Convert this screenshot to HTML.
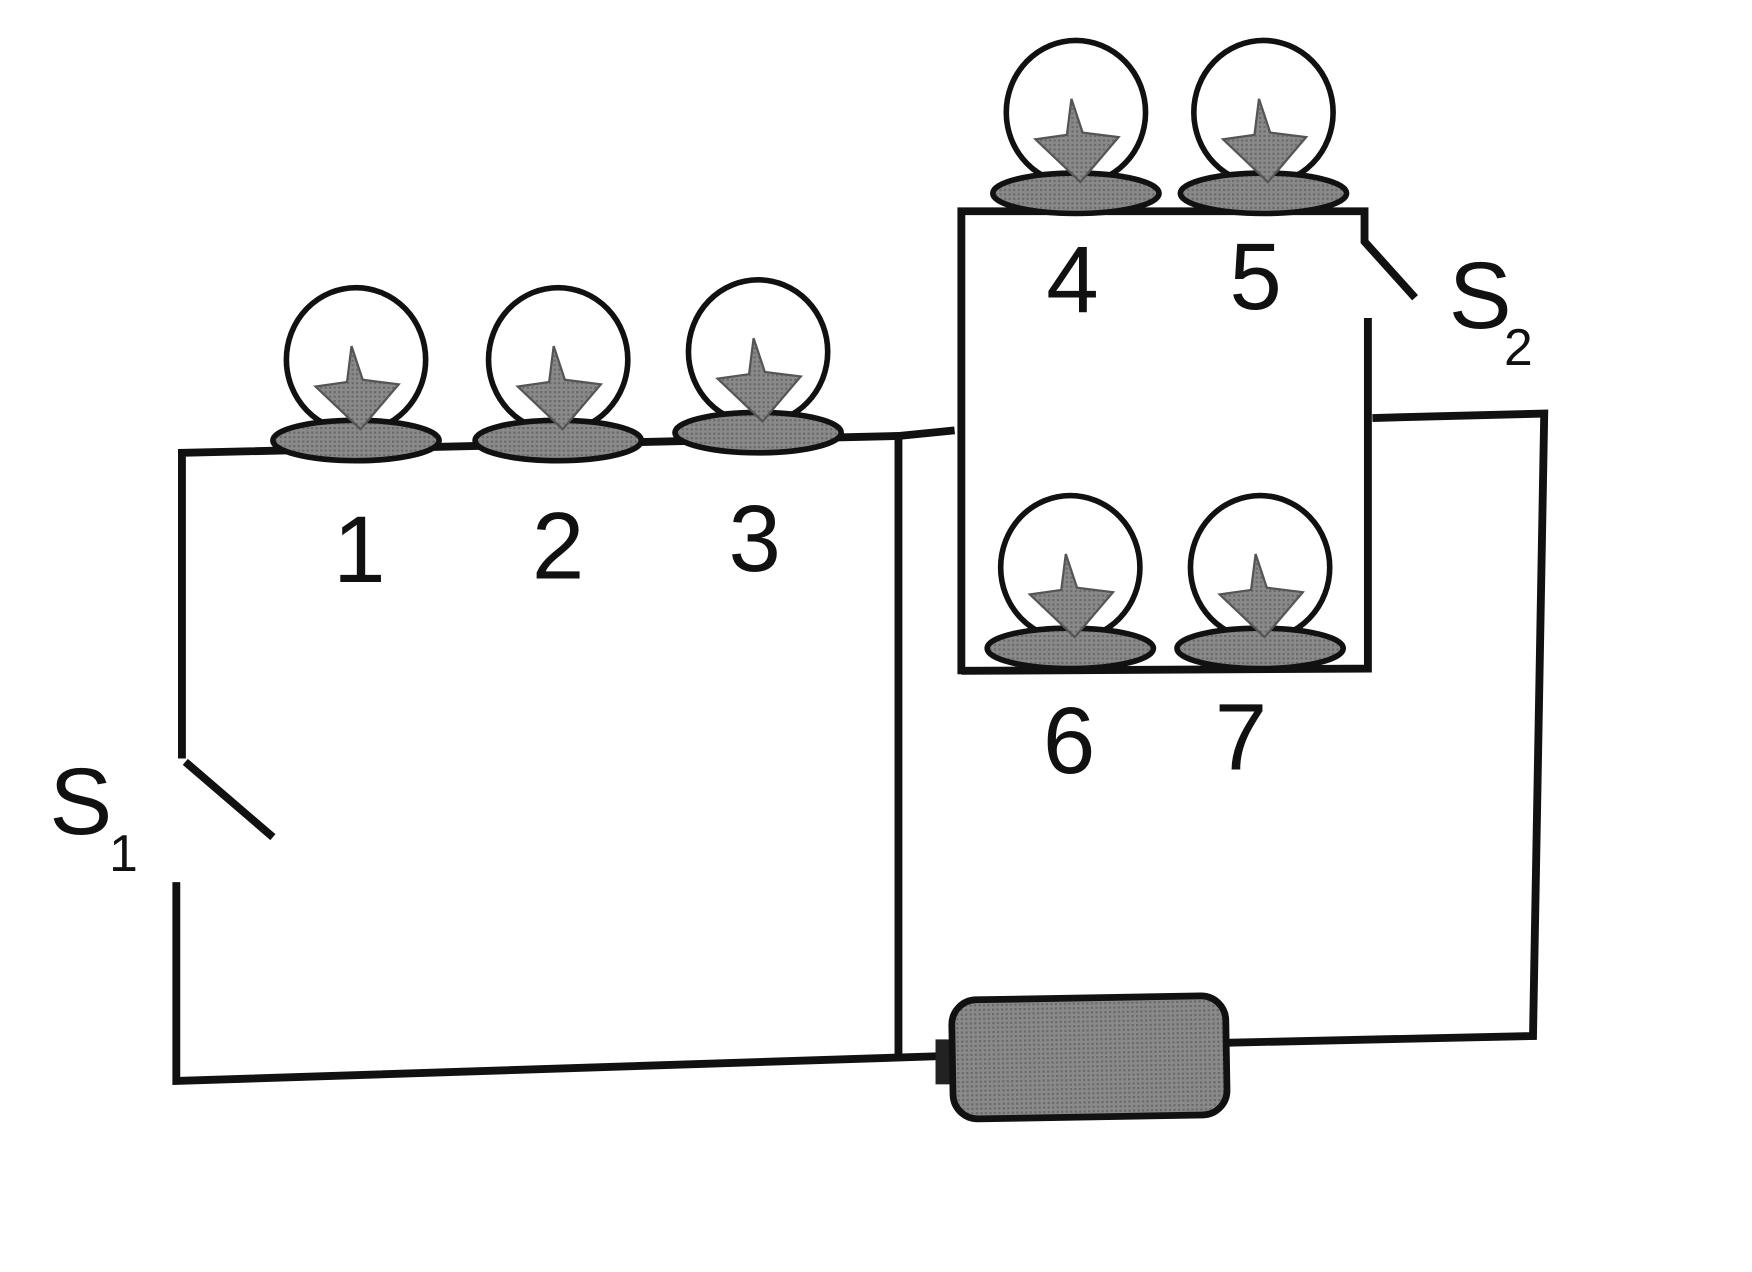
<!DOCTYPE html>
<html><head><meta charset="utf-8"><style>html,body{margin:0;padding:0;background:#fff}svg{display:block}</style></head>
<body>
<svg width="1752" height="1272" viewBox="0 0 1560 1132" preserveAspectRatio="none" xmlns="http://www.w3.org/2000/svg">
<defs>
<pattern id="hatch" width="4" height="4" patternUnits="userSpaceOnUse"><rect width="4" height="4" fill="#8a8a8a"/><rect width="2" height="2" fill="#6a6a6a"/></pattern>
<g id="bulb">
<ellipse cx="0" cy="0" rx="62" ry="64" fill="#fff" stroke="#111" stroke-width="5"/>
<ellipse cx="0" cy="72" rx="74" ry="18" fill="url(#hatch)" stroke="#111" stroke-width="5"/>
<path d="M-4,-12 L6,18 L38,22 L4,62 L-36,24 L-8,20 Z" fill="url(#hatch)" stroke="#555" stroke-width="2"/>
</g>
</defs>
<g fill="none" stroke="#111" stroke-width="7">
<polyline points="162,675 162,403 800,388 850,383"/>
<line x1="165" y1="678" x2="243" y2="745"/>
<polyline points="157,785 157,962 835,940"/>
<line x1="800" y1="390" x2="800" y2="940"/>
<polyline points="856,600 856,188 1215,188 1215,215 1260,265"/>
<polyline points="1218,283 1218,595 856,597"/>
<polyline points="1222,372 1375,368 1365,922 1090,928"/>
</g>
<g><use href="#bulb" x="317" y="320"/></g>
<g><use href="#bulb" x="497" y="320"/></g>
<g><use href="#bulb" x="675" y="313"/></g>
<g><use href="#bulb" x="958" y="100"/></g>
<g><use href="#bulb" x="1125" y="100"/></g>
<g><use href="#bulb" x="953" y="505"/></g>
<g><use href="#bulb" x="1122" y="505"/></g>
<g>
<rect x="833" y="925" width="20" height="40" fill="#222"/>
<rect x="848" y="888" width="244" height="106" rx="22" fill="url(#hatch)" stroke="#111" stroke-width="6" transform="rotate(-1 970 940)"/>
</g>
<g font-family="Liberation Sans, sans-serif" font-size="84" fill="#111" text-anchor="middle">
<text x="320" y="518">1</text>
<text x="497" y="515">2</text>
<text x="672" y="508">3</text>
<text x="955" y="278">4</text>
<text x="1118" y="275">5</text>
<text x="952" y="688">6</text>
<text x="1105" y="685">7</text>
<text x="72" y="742">S</text>
<text x="110" y="775" font-size="46">1</text>
<text x="1318" y="292">S</text>
<text x="1352" y="325" font-size="46">2</text>
</g>
</svg>
</body></html>
